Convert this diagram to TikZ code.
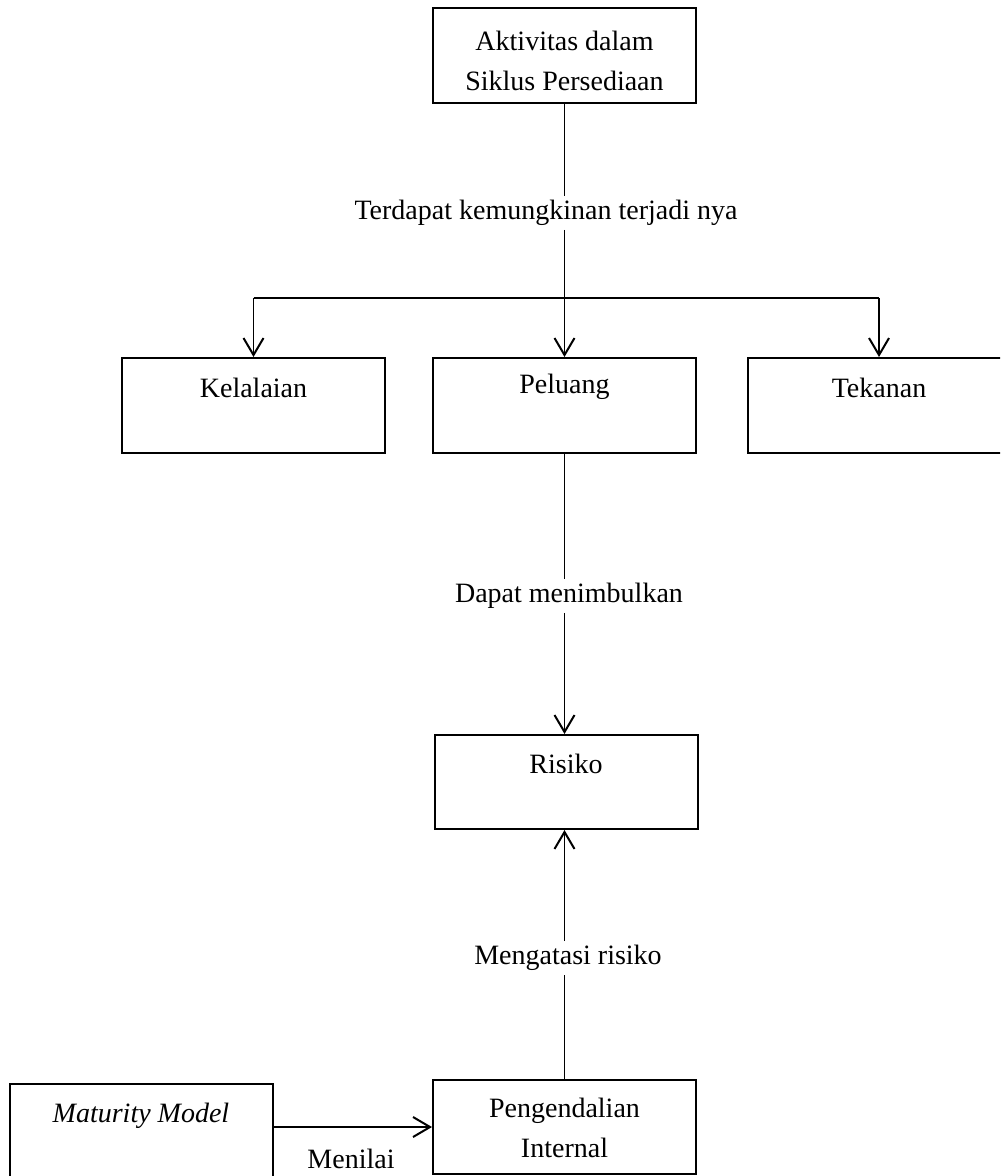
\documentclass[tikz,border=0pt]{standalone}
\usepackage{fontspec}
\setmainfont{Liberation Serif}
\usetikzlibrary{arrows.meta}
\tikzset{
  box/.style={draw, line width=1pt, minimum width=131.5pt, minimum height=47.5pt, inner xsep=2pt, inner ysep=0pt, font=\fontsize{14}{20}\selectfont},
  lab/.style={inner xsep=1pt, inner ysep=1.5pt, text height=10pt, text depth=3.5pt, font=\fontsize{14}{20}\selectfont},
  conn/.style={line width=0.9pt},
  arr/.style={line width=0.9pt, -{Straight Barb[length=8.5pt,width=10pt,line width=1pt]}}
}
\begin{document}
\begin{tikzpicture}[x=0.5pt,y=-0.5pt]
\useasboundingbox (0,0) rectangle (1000,1176);
\clip (0,0) rectangle (1000,1176);
% boxes
\node[box, text height=21.5pt, text depth=26pt] (top) at (564.5,55.5) {\begin{tabular}[t]{@{}c@{}}Aktivitas dalam\\Siklus Persediaan\end{tabular}};
\node[box, text height=19.5pt, text depth=28pt] (kel) at (253.5,405.5) {Kelalaian};
\node[box, text height=17.5pt, text depth=30pt] (pel) at (564.5,405.5) {Peluang};
\node[box, text height=19.5pt, text depth=28pt] (tek) at (879,405.5) {Tekanan};
\node[box, text height=19pt, text depth=28pt, minimum height=47pt] (ris) at (566,782) {Risiko};
\node[box, text height=18.5pt, text depth=28.5pt, minimum height=47pt] (pen) at (564.5,1127) {\begin{tabular}[t]{@{}c@{}}Pengendalian\\Internal\end{tabular}};
\node[box, text height=19pt, text depth=28pt, minimum height=47pt, font=\fontsize{14}{20}\itshape] (mat) at (141,1131) {Maturity Model};
% labels
\node[lab] (l1) at (546,213) {Terdapat kemungkinan terjadi nya};
\node[lab] (l2) at (569,596) {Dapat menimbulkan};
\node[lab] (l3) at (568,958) {Mengatasi risiko};
\node[lab] (l4) at (351,1162) {Menilai};
% connectors
\coordinate (j) at (564.5,298);
\draw[conn] (top.south) -- (top.south |- l1.north);
\draw[arr] (top.south |- l1.south) -- (pel.north);
\draw[conn] (kel.north |- j) -- (tek.north |- j);
\draw[arr] (kel.north |- j) -- (kel.north);
\draw[arr] (tek.north |- j) -- (tek.north);
\draw[conn] (pel.south) -- (pel.south |- l2.north);
\draw[arr] (pel.south |- l2.south) -- (pel.south |- ris.north);
\draw[conn] (pen.north) -- (pen.north |- l3.south);
\draw[arr] (pen.north |- l3.north) -- (pen.north |- ris.south);
\draw[arr] (mat.east |- pen.west) -- (pen.west);
\end{tikzpicture}
\end{document}
